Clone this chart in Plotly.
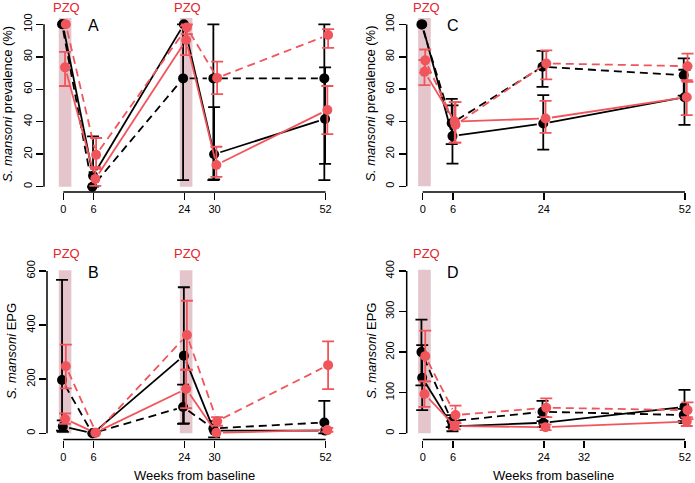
import math
import plotly.graph_objects as go

W, H = 695, 483

# ---------------- data ----------------
weeks_AB = [0, 6, 24, 30, 52]
weeks_CD = [0, 6, 24, 52]
xticks_A = [0, 6, 24, 30, 52]
xticks_B = [0, 6, 24, 30, 52]
xticks_C = [0, 6, 24, 52]
xticks_D = [0, 6, 24, 32, 52]
yticks_prev = [0, 20, 40, 60, 80, 100]
yticks_B = [0, 200, 400, 600]
yticks_D = [0, 100, 200, 300, 400]
pzq_AB = [0, 24]
pzq_CD = [0]
NA = None

# Panel A: prevalence (%)
A_bs = [100, 6.7, 100, 20, 41.7]
A_bs_lo = [NA, 0, NA, 4.5, 14]
A_bs_hi = [NA, 31, NA, 49, 73.5]
A_bd = [100, 0, 66.7, 66.7, 66.7]
A_bd_lo = [NA, NA, 4, 4, 4]
A_bd_hi = [NA, NA, 100, 100, 100]
A_rs = [73.5, 4.8, 90.3, 13.4, 47.2]
A_rs_lo = [62, 0.5, 81, 6, 32.4]
A_rs_hi = [83, 12, 99, 24.6, 62]
A_rd = [100, 19.6, 98, 67, 93.4]
A_rd_lo = [NA, 11, 94, 57, 85.5]
A_rd_hi = [NA, 30, 100, 77, 97]

# Panel B: EPG
B_bs = [25, 0, 287, 10, 10]
B_bs_lo = [5, NA, 37, -15, NA]
B_bs_hi = [48, NA, 540, 45, NA]
B_bd = [197, 0, 97, 18, 40]
B_bd_lo = [10, NA, 35, NA, 0]
B_bd_hi = [567, NA, 180, NA, 120]
B_rs = [53, 2, 164, 2, 12]
B_rs_lo = [35, NA, 93, NA, 5]
B_rs_hi = [74, NA, 235, NA, 20]
B_rd = [248, 2, 363, 45, 252]
B_rd_lo = [166, NA, 235, 28, 163]
B_rd_hi = [328, NA, 490, 60, 340]

# Panel C: prevalence (%)
C_bs = [100, 31, 38.8, 55]
C_bs_lo = [NA, 14, 22.7, 38]
C_bs_hi = [NA, 50, 56.3, 72]
C_bd = [100, 39, 73.8, 68.6]
C_bd_lo = [NA, 26, 61.4, 56]
C_bd_hi = [NA, 54, 83.7, 79]
C_rs = [70.7, 40, 41.9, 55]
C_rs_lo = [62.5, 27, 33, 44]
C_rs_hi = [78, 52, 52.8, 65.5]
C_rd = [77.8, 38, 75.9, 74.2]
C_rd_lo = [70, 27, 66, 64.5]
C_rd_hi = [84.5, 52, 84, 82]

# Panel D: EPG
D_bs = [137, 17, 26, 65]
D_bs_lo = [57, 5, 15, 25]
D_bs_hi = [217, 30, 40, 107]
D_bd = [200, 30, 53, 45]
D_bd_lo = [118, 15, 30, 30]
D_bd_hi = [280, 45, 80, 60]
D_rs = [97, 18, 15, 29]
D_rs_lo = [65, 10, 8, 18]
D_rs_hi = [128, 28, 22, 40]
D_rd = [190, 45, 63, 57]
D_rd_lo = [128, 25, 40, 35]
D_rd_hi = [253, 68, 86, 76]

# ---------------- styles ----------------
BLACK = "#000000"
RED = "#F0555C"
PZQ_RED = "#E3242B"
BAND = "#E4C5CC"
FONT = "Liberation Sans, Arial, Helvetica, sans-serif"

styles = {
    "bs": dict(color=BLACK, dash="solid", dx=-0.1),
    "bd": dict(color=BLACK, dash="8px,5px", dx=-0.25),
    "rs": dict(color=RED, dash="solid", dx=0.35),
    "rd": dict(color=RED, dash="8px,5px", dx=0.5),
}

# panel geometry in pixels: plot box, pixel of x=0 and px per week, pixel of y=0 and px per unit
panels = [
    dict(key="A", weeks=weeks_AB, xt=xticks_A, yt=yticks_prev, pzq=pzq_AB, band_top=104,
         series={"bs": (A_bs, A_bs_lo, A_bs_hi), "bd": (A_bd, A_bd_lo, A_bd_hi),
                 "rs": (A_rs, A_rs_lo, A_rs_hi), "rd": (A_rd, A_rd_lo, A_rd_hi)},
         box=(44, 343, 17.8, 192), x0=63.3, sx=5.044, y0=186.7, sy=1.624,
         ylab="<i>S. mansoni</i> prevalence (%)", xlab=False),
    dict(key="B", weeks=weeks_AB, xt=xticks_B, yt=yticks_B, pzq=pzq_AB, band_top=603,
         series={"bs": (B_bs, B_bs_lo, B_bs_hi), "bd": (B_bd, B_bd_lo, B_bd_hi),
                 "rs": (B_rs, B_rs_lo, B_rs_hi), "rd": (B_rd, B_rd_lo, B_rd_hi)},
         box=(47, 343, 264.5, 439.5), x0=63.3, sx=5.044, y0=433.3, sy=0.2705,
         ylab="<i>S. mansoni</i> EPG", xlab=True),
    dict(key="C", weeks=weeks_CD, xt=xticks_C, yt=yticks_prev, pzq=pzq_CD, band_top=104,
         series={"bs": (C_bs, C_bs_lo, C_bs_hi), "bd": (C_bd, C_bd_lo, C_bd_hi),
                 "rs": (C_rs, C_rs_lo, C_rs_hi), "rd": (C_rd, C_rd_lo, C_rd_hi)},
         box=(406.7, 694, 17.8, 192), x0=422.7, sx=5.044, y0=186.3, sy=1.619,
         ylab="<i>S. mansoni</i> prevalence (%)", xlab=False),
    dict(key="D", weeks=weeks_CD, xt=xticks_D, yt=yticks_D, pzq=pzq_CD, band_top=403,
         series={"bs": (D_bs, D_bs_lo, D_bs_hi), "bd": (D_bd, D_bd_lo, D_bd_hi),
                 "rs": (D_rs, D_rs_lo, D_rs_hi), "rd": (D_rd, D_rd_lo, D_rd_hi)},
         box=(406.7, 694, 264.5, 439.5), x0=422.7, sx=5.044, y0=433.3, sy=0.406,
         ylab="<i>S. mansoni</i> EPG", xlab=True),
]

GAP = 6.5  # pixel gap between line ends and points (R type="b")

fig = go.Figure()
shapes, annotations = [], []
layout = {}


def px2fx(px):
    return px / W


def px2fy(py):
    return 1 - py / H


for i, p in enumerate(panels):
    n = "" if i == 0 else str(i + 1)
    xa, ya = "x" + n, "y" + n
    L, R, T, B = p["box"]
    xr = ((L - p["x0"]) / p["sx"], (R - p["x0"]) / p["sx"])
    yr = ((p["y0"] - B) / p["sy"], (p["y0"] - T) / p["sy"])
    layout["xaxis" + n] = dict(domain=[px2fx(L), px2fx(R)], range=list(xr), anchor=ya,
                               showgrid=False, zeroline=False, showline=False, automargin=False,
                               tickmode="array", tickvals=p["xt"], ticktext=[str(v) for v in p["xt"]],
                               ticks="outside", ticklen=7, tickwidth=1.5, tickcolor="black",
                               tickfont=dict(size=11, color="black", family=FONT), fixedrange=True)
    layout["yaxis" + n] = dict(domain=[px2fy(B), px2fy(T)], range=list(yr), anchor=xa,
                               showgrid=False, zeroline=False, showline=False, automargin=False,
                               tickmode="array", tickvals=p["yt"], ticktext=[str(v) for v in p["yt"]],
                               ticks="outside", ticklen=7, tickwidth=1.5, tickcolor="black",
                               tickangle=-90,
                               tickfont=dict(size=11, color="black", family=FONT), fixedrange=True)
    # axis lines spanning the tick range (R style)
    shapes.append(dict(type="line", xref=xa, yref=ya + " domain", x0=p["xt"][0], x1=p["xt"][-1],
                       y0=0, y1=0, line=dict(color="black", width=1.5)))
    shapes.append(dict(type="line", xref=xa + " domain", yref=ya, x0=0, x1=0,
                       y0=p["yt"][0], y1=p["yt"][-1], line=dict(color="black", width=1.5)))
    # PZQ bands
    for t in p["pzq"]:
        shapes.append(dict(type="rect", xref=xa, yref=ya, x0=t - 0.9, x1=t + 1.6, y0=0,
                           y1=p["band_top"], fillcolor=BAND, line=dict(width=0), layer="below"))
        annotations.append(dict(text="PZQ", xref=xa, yref="paper", x=t + 0.7,
                                y=px2fy(T - 10.5), xanchor="center", yanchor="middle",
                                showarrow=False,
                                font=dict(size=13, color=PZQ_RED, family=FONT)))
    # panel letter
    annotations.append(dict(text=p["key"], xref=xa, yref="paper", x=6,
                            y=px2fy(T + 7.5), xanchor="center", yanchor="middle", showarrow=False,
                            font=dict(size=16, color="black", family=FONT)))
    # axis titles
    annotations.append(dict(text=p["ylab"], xref="paper", yref="paper", x=px2fx(L - 36),
                            y=px2fy((T + B) / 2 - 1), textangle=-90, xanchor="center",
                            yanchor="middle", showarrow=False,
                            font=dict(size=13, color="black", family=FONT)))
    if p["xlab"]:
        annotations.append(dict(text="Weeks from baseline", xref="paper", yref="paper",
                                x=px2fx(p["x0"] + 26 * p["sx"]), y=px2fy(B + 36),
                                xanchor="center", yanchor="middle", showarrow=False,
                                font=dict(size=13, color="black", family=FONT)))

    for key in ["bs", "bd", "rs", "rd"]:
        st = styles[key]
        yv, lo, hi = p["series"][key]
        xs = [w + st["dx"] for w in p["weeks"]]
        # error bars (only where defined)
        ex, ey, ep, em = [], [], [], []
        for xv, yy, l, h in zip(xs, yv, lo, hi):
            if l is not None and h is not None:
                ex.append(xv); ey.append(yy); ep.append(h - yy); em.append(yy - l)
        fig.add_trace(go.Scatter(x=ex, y=ey, mode="markers", marker=dict(size=1, opacity=0),
                                 error_y=dict(type="data", symmetric=False, array=ep, arrayminus=em,
                                              color=st["color"], thickness=1.8, width=6),
                                 xaxis=xa, yaxis=ya, hoverinfo="skip", showlegend=False))
        # line segments with gaps around points
        lx, ly = [], []
        for k in range(len(xs) - 1):
            xa0, ya0, xa1, ya1 = xs[k], yv[k], xs[k + 1], yv[k + 1]
            dxp = (xa1 - xa0) * p["sx"]
            dyp = (ya1 - ya0) * p["sy"]
            Lp = math.hypot(dxp, dyp)
            if Lp <= 2 * GAP:
                continue
            f = GAP / Lp
            lx += [xa0 + f * (xa1 - xa0), xa1 - f * (xa1 - xa0), None]
            ly += [ya0 + f * (ya1 - ya0), ya1 - f * (ya1 - ya0), None]
        fig.add_trace(go.Scatter(x=lx, y=ly, mode="lines",
                                 line=dict(color=st["color"], width=1.8, dash=st["dash"]),
                                 xaxis=xa, yaxis=ya, hoverinfo="skip", showlegend=False))
        fig.add_trace(go.Scatter(x=xs, y=yv, mode="markers",
                                 marker=dict(size=10, color=st["color"], line=dict(width=0)),
                                 xaxis=xa, yaxis=ya, hoverinfo="skip", showlegend=False))

fig.update_layout(width=W, height=H, margin=dict(l=0, r=0, t=0, b=0, autoexpand=False),
                  plot_bgcolor="white", paper_bgcolor="white", showlegend=False,
                  font=dict(family=FONT, color="black"), hovermode=False,
                  shapes=shapes, annotations=annotations, **layout)

# remove the browser's default page margin so the 695x483 figure fills the window exactly
fig.write_html("out.html", config={"displayModeBar": False, "staticPlot": True},
               post_script="document.body.style.margin='0';document.body.style.padding='0';")
